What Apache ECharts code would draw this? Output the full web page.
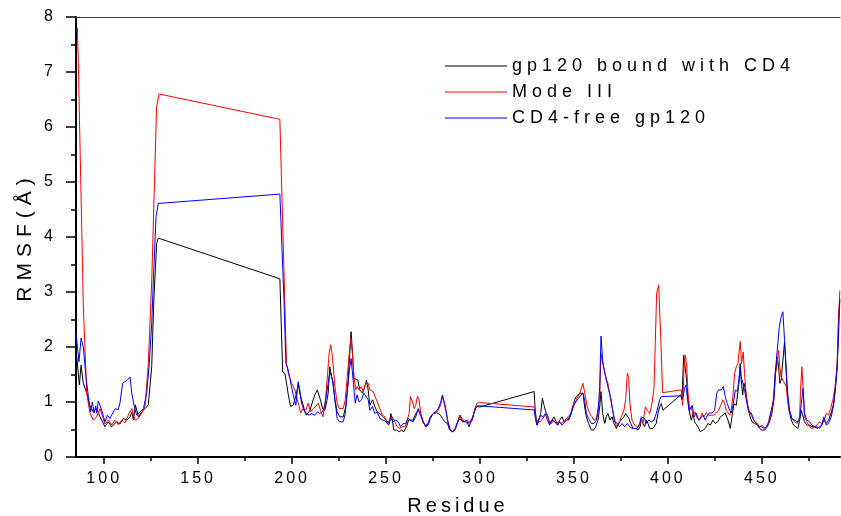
<!DOCTYPE html>
<html>
<head>
<meta charset="UTF-8">
<title>RMSF</title>
<script src="https://cdn.jsdelivr.net/npm/echarts@6/dist/echarts.min.js"></script>
<style>
  html, body { margin: 0; padding: 0; background: #fff; }
  #main { width: 841px; height: 516px; }
</style>
</head>
<body>
<div id="main"></div>
<script>
// [residue, RMSF]
var boundCD4 = [
    [85,1.98],[86.8,1.31],[87.7,1.67],[88.9,1.34],[90.7,1.16],[92.4,0.93],[94.2,0.82],[96,0.88],[97.8,0.73],[100.4,0.55],
    [102.2,0.64],[104,0.55],[106.6,0.64],[108.4,0.6],[110.2,0.7],[112,0.67],[113.8,0.73],[114.7,0.82],[115.6,0.67],[116.6,0.95],
    [118.2,0.73],[120,0.82],[121.8,0.88],[123.5,0.95],[125.3,1.64],[126.3,2.75],[127.9,3.88],[128.8,3.98],
    [193.5,3.24],[195,1.55],[196.2,1.52],[196.8,1.55],[198,1.13],[199.2,0.92],[200.6,0.94],[201.5,0.92],[202.4,1.16],[203.3,1.34],
    [204.1,1.16],[205,1.19],[205.9,0.94],[206.8,0.82],[207.7,0.76],[209.5,0.85],[211.2,1.04],[212.1,1.13],[213.4,1.22],[214.4,1.25],
    [215.1,1.04],[216.2,0.88],[217.4,0.85],[218.3,0.98],[219.2,1.16],[220.1,1.64],[221,1.46],[221.9,1.34],[222.8,1.04],[224,0.82],
    [225.4,0.73],[227.2,0.73],[228.6,0.92],[229.8,1.37],[230.7,1.88],[231.4,2.28],[232.2,1.88],[232.9,1.43],[233.9,1.4],[235,1.4],
    [236,1.22],[237.5,1.16],[238.7,1.28],[239.6,1.4],[240.5,1.22],[241.4,0.94],[242.8,1.04],[244,0.92],[245.3,0.82],[246.7,0.79],
    [248.5,0.73],[250.2,0.67],[251.7,0.61],[252.6,0.79],[253.4,0.67],[254.1,0.49],[255.6,0.49],[257,0.46],[258.2,0.49],[259.5,0.46],
    [260.9,0.55],[262,0.67],[263,0.7],[264.4,0.67],[265.8,0.79],[267.1,0.85],[268.3,0.79],[269.8,0.64],[271.2,0.55],[272.4,0.58],
    [273.6,0.7],[275.1,0.79],[276.5,0.82],[277.7,0.79],[279,0.76],[280,0.7],[281.3,0.64],[282.7,0.61],[283.9,0.49],[285.4,0.46],
    [286.6,0.49],[287.8,0.61],[289.3,0.76],[290.3,0.67],[291.4,0.64],[292.8,0.67],[294.2,0.55],[295.5,0.67],[296.7,0.79],[298.1,0.92],
    [300,0.91],
    [328.8,1.19],[329.5,0.8],[330.5,0.58],[331.4,0.61],[332.3,0.79],[333.2,1.07],[334.1,0.94],[335,0.82],[335.9,0.76],[337.1,0.61],
    [338.3,0.67],[339.4,0.73],[340.6,0.64],[341.5,0.58],[342.4,0.67],[343.7,0.73],[344.7,0.64],[346,0.7],[347.2,0.67],[348.3,0.76],
    [349.5,0.92],[350.4,1.04],[351.3,1.1],[352.2,1.13],[353.1,1.16],[354,1.13],[354.8,1.16],[355.7,0.91],[356.6,0.73],[357.8,0.61],
    [359.3,0.49],[360.5,0.49],[361.6,0.55],[362.8,0.67],[363.7,0.91],[364.4,1.19],[365.3,0.79],[366.4,0.61],[367.2,0.73],[368.1,0.79],
    [369.2,0.67],[370.3,0.73],[371.3,0.61],[372.6,0.52],[373.4,0.55],[374.3,0.64],[375.2,0.64],[376.6,0.73],[377.5,0.79],[378.4,0.82],
    [379.3,0.7],[380.2,0.61],[381.4,0.52],[382.7,0.52],[384.1,0.49],[385.2,0.55],[385.9,0.7],[386.7,0.61],[387.6,0.55],[388.5,0.67],
    [389.4,0.61],[390.3,0.52],[391.2,0.55],[392.1,0.52],[393,0.49],[393.8,0.61],[394.7,0.79],[395.6,0.91],[396.5,0.97],[397.4,0.85],
    [406.8,1.13],[407.5,1.04],[408.4,1.85],[409.3,1.88],[410,1.4],[410.7,1.04],[411.6,0.8],[412.5,0.67],[413.4,0.8],[414.2,0.64],
    [415.1,0.67],[416,0.55],[417.3,0.46],[418.7,0.49],[419.9,0.52],[421.3,0.61],[422.6,0.58],[424,0.67],[425.2,0.61],[426.6,0.64],
    [427.9,0.73],[429.3,0.76],[430.5,0.8],[432,0.67],[433.2,0.52],[434.1,0.73],[435.2,0.97],[436.4,0.94],[437.3,0.91],[437.8,1.34],
    [438.5,1.7],[439,1.4],[439.8,1.13],[440.5,1.34],[441.2,1.25],[442.3,0.97],[443.5,0.76],[444.7,0.64],[446.2,0.61],[447.6,0.58],
    [448.8,0.52],[450,0.49],[451.5,0.49],[452.9,0.55],[454.1,0.64],[455.4,0.8],[456.4,1.04],[457.3,1.52],[458.2,1.82],[458.9,1.64],
    [459.6,1.34],[460.3,1.4],[461.2,1.37],[462.1,2.1],[462.8,1.7],[463.5,1.22],[464.4,0.85],[465.7,0.67],[466.9,0.58],[468,0.55],
    [469.2,0.52],[470.1,0.67],[471,0.85],[471.9,0.82],[472.7,0.64],[474,0.58],[475.4,0.58],[476.6,0.55],[478.1,0.55],[479.5,0.52],
    [480.7,0.55],[481.9,0.58],[483,0.67],[484.3,0.61],[485.5,0.67],[486.9,0.8],[488.2,0.97],[489.2,1.28],[490.1,1.64],[490.8,2.49],
    [491.5,2.88]
];

var modeIII = [
    [85.7,7.8],[86.2,7.22],[88.9,2.75],[90.7,1.16],[92.4,0.8],[94.2,0.67],[96,0.73],[97.8,0.88],[99.5,0.7],[100.4,0.6],
    [102.2,0.67],[104,0.58],[105.7,0.67],[107.5,0.59],[109.3,0.67],[111,0.62],[112.8,0.76],[114.7,0.88],[116.4,0.67],[118.2,0.7],
    [120,0.8],[121.8,0.93],[123.5,1.7],[125.3,3.2],[127.9,6.37],[129.2,6.6],
    [193.5,6.14],[195.5,3.6],[197,1.7],[198,1.52],[199.7,1.34],[201.5,1.22],[202.7,1.04],[203.8,0.92],[204.5,0.8],[205.9,0.88],
    [207.3,0.85],[208.6,0.98],[209.8,0.82],[211.2,0.88],[212.6,0.92],[213.9,0.98],[215.1,0.85],[216.5,0.73],[217.8,1.04],[218.9,1.52],
    [219.7,1.88],[220.6,2.04],[221.5,1.82],[222.8,1.28],[224,0.98],[225.1,0.88],[227.2,0.88],[228.3,1.04],[229,1.31],[229.8,1.64],
    [230.7,2.0],[231.4,2.16],[232.2,1.82],[232.9,1.46],[233.9,1.22],[234.6,1.28],[235.7,1.22],[236.9,1.28],[237.8,1.19],[239.2,1.34],
    [240.5,1.34],[241.4,1.22],[243.1,1.19],[244.9,1.04],[246.7,0.88],[248.1,0.76],[249.4,0.73],[250.6,0.61],[252,0.67],[253.4,0.73],
    [254.7,0.64],[255.9,0.55],[257.3,0.52],[258.8,0.55],[260.2,0.55],[261.2,0.67],[262.3,0.79],[263,1.1],[264.1,1.0],[265,0.88],
    [265.8,0.94],[266.7,1.1],[267.6,1.04],[268.5,0.79],[269.8,0.61],[271.2,0.58],[272.4,0.61],[273.6,0.73],[275.1,0.79],[276.5,0.79],
    [277.7,0.85],[279,0.94],[280,1.1],[280.7,1.13],[281.8,0.85],[283,0.64],[284.3,0.49],[285.7,0.46],[287.1,0.52],[288.4,0.67],
    [289.3,0.76],[290.5,0.7],[291.9,0.64],[293.2,0.67],[294.6,0.61],[296,0.67],[297.2,0.88],[298.5,0.98],[300,0.99],
    [328.8,0.91],[329.5,0.75],[330,0.67],[331,0.64],[332,0.64],[333,0.67],[334.1,0.73],[335.3,0.79],[336.6,0.67],[338,0.61],
    [339.2,0.67],[340.6,0.61],[341.9,0.64],[343,0.61],[344.2,0.64],[345.4,0.67],[346.8,0.73],[348.3,0.79],[349.5,0.94],[350.4,0.97],
    [351.3,1.04],[352.2,1.1],[353.1,1.16],[354,1.19],[354.8,1.34],[355.4,1.35],[356.1,1.1],[357.1,0.91],[358.4,0.79],[359.6,0.73],
    [360.7,0.67],[361.9,0.7],[362.8,0.73],[363.7,1.04],[364.4,1.88],[365.3,1.7],[366.4,1.55],[367.4,1.4],[368.1,1.34],[369.2,1.1],
    [370.3,0.91],[371.3,0.73],[372.6,0.55],[373.8,0.61],[375.2,0.73],[376.6,0.85],[377.5,1.04],[378.4,1.52],[379.1,1.46],[379.8,0.97],
    [380.9,0.67],[382.3,0.58],[383.7,0.55],[385,0.58],[385.9,0.7],[386.7,0.61],[388,0.91],[389,0.85],[390.3,0.79],[391.5,0.97],
    [392.6,1.25],[393.3,2.07],[394,2.97],[395.1,3.13],[396.1,2.25],[397.2,1.17],
    [407.1,1.22],[407.9,0.94],[408.6,1.64],[409.3,1.85],[410,1.64],[410.7,1.16],[411.6,0.85],[412.5,0.91],[413.4,0.76],[414.6,0.82],
    [415.7,0.7],[416.9,0.67],[418.1,0.8],[419.2,0.73],[420.4,0.8],[421.7,0.76],[423.1,0.76],[424.5,0.76],[425.8,0.8],[427,0.85],
    [428.1,0.94],[429.3,1.04],[430.2,0.97],[431.1,0.85],[432,0.82],[433,0.76],[433.7,0.85],[434.6,1.1],[435.5,1.52],[436.4,1.64],
    [437.3,1.7],[437.8,1.88],[438.5,2.1],[439.2,1.7],[440.1,1.91],[440.8,1.52],[441.7,1.1],[442.6,0.91],[443.5,0.82],[444.7,0.73],
    [446.2,0.64],[447.6,0.61],[448.8,0.55],[450,0.58],[451.5,0.52],[452.9,0.55],[454.1,0.67],[455.4,0.85],[456.3,1.1],[457.1,1.52],
    [458,1.64],[458.9,1.94],[459.6,1.64],[460.3,1.46],[461.2,1.4],[462.1,1.4],[463,1.28],[463.9,0.97],[464.8,0.82],[466,0.7],
    [467.4,0.64],[468.8,0.61],[470.1,0.73],[470.6,1.22],[471.3,1.64],[472,1.22],[472.7,0.73],[474,0.64],[475.4,0.55],[476.6,0.52],
    [478.1,0.55],[479.5,0.58],[480.7,0.64],[481.9,0.61],[483,0.64],[484.3,0.8],[485.5,0.76],[486.6,0.88],[487.8,1.04],[489,1.28],
    [490.1,1.7],[490.8,2.43],[491.5,3.02]
];

var cd4Free = [
    [85,2.25],[86.6,1.73],[87.7,2.16],[88.9,2.0],[90.3,1.46],[91.6,1.1],[92.8,0.82],[93.7,1.0],[94.6,0.8],[95.5,0.93],
    [96,0.8],[96.9,1.02],[98.7,0.85],[100.4,0.64],[101.7,0.76],[103,0.7],[104.8,0.82],[106,0.88],[107.5,0.86],[108.4,0.98],
    [109.8,1.34],[111,1.37],[112.2,1.4],[113.8,1.45],[114.7,1.16],[115.9,0.93],[117.3,0.76],[119.1,0.82],[120.9,0.88],[122.6,1.16],
    [123.9,1.64],[125.3,2.43],[126.2,3.24],[127.6,4.37],[128.8,4.61],
    [193.5,4.78],[195.7,2.85],[196.7,1.7],[198,1.58],[199.7,1.28],[201,1.07],[202,0.94],[203.3,1.37],[204.1,1.22],[205,0.98],
    [206.3,0.85],[207.7,0.79],[209.1,0.76],[210.3,0.79],[212.1,0.76],[213.4,0.82],[214.8,0.79],[216.2,0.82],[217.4,0.94],[218.7,1.22],
    [219.7,1.46],[220.6,1.52],[221.5,1.4],[222.8,1.04],[224,0.7],[225.1,0.64],[227.2,0.64],[228.3,0.79],[229.3,1.16],[230.4,1.55],
    [231.4,1.79],[232.5,1.4],[233.6,0.98],[234.6,1.13],[235.7,1.0],[236.9,1.04],[238.2,1.16],[239.2,1.13],[240.5,1.04],[241.4,0.85],
    [242.8,0.92],[244,0.79],[245.3,0.82],[246.7,0.7],[248.5,0.67],[250.2,0.64],[251.3,0.58],[252.6,0.7],[253.8,0.64],[255.2,0.67],
    [256.5,0.64],[257.7,0.55],[259.1,0.61],[260.5,0.61],[261.8,0.7],[263,0.67],[264.4,0.64],[265.8,0.73],[267.1,0.88],[268.3,0.76],
    [269.8,0.64],[271.2,0.55],[272.4,0.61],[273.6,0.73],[275.1,0.79],[276.5,0.82],[277.7,0.88],[279,0.98],[280,1.13],[280.7,1.15],
    [281.6,0.92],[282.7,0.67],[283.9,0.5],[285.4,0.46],[286.6,0.49],[287.8,0.61],[289.3,0.7],[290.7,0.64],[292.1,0.64],[293.3,0.61],
    [294.6,0.64],[296,0.7],[297.2,0.85],[298.5,0.93],[300,0.93],
    [328.8,0.855],[329.5,0.7],[330.2,0.58],[331.2,0.67],[332.3,0.76],[333.5,0.73],[334.8,0.79],[335.9,0.67],[337.1,0.58],[338.3,0.67],
    [339.8,0.64],[341.2,0.58],[342.4,0.64],[343.7,0.58],[345.1,0.64],[346.5,0.67],[347.7,0.73],[349,0.85],[350.4,0.97],[351.8,1.04],
    [353.1,1.1],[354,1.13],[354.8,1.16],[355.7,1.04],[356.6,0.79],[357.8,0.7],[359.3,0.61],[360.7,0.61],[361.9,0.67],[362.8,0.79],
    [363.7,1.28],[364.4,2.2],[365.3,1.76],[366.4,1.52],[367.4,1.37],[368.5,1.22],[369.5,1.1],[370.6,0.85],[371.7,0.64],[373.1,0.61],
    [374.3,0.55],[375.6,0.61],[377,0.55],[378.4,0.61],[379.7,0.55],[380.9,0.52],[382.3,0.52],[383.7,0.52],[385,0.61],[385.9,0.73],
    [386.7,0.76],[387.6,0.7],[388.5,0.61],[389.8,0.67],[391.2,0.64],[392.6,0.67],[393.8,0.79],[394.7,0.91],[395.6,1.04],[396.5,1.1],
    [397.4,1.13],
    [406.8,1.11],[407.9,1.07],[408.9,1.25],[409.6,1.31],[410.3,1.1],[411.2,0.85],[412.1,0.85],[413,0.94],[413.9,0.73],[415.1,0.8],
    [416.4,0.67],[417.4,0.67],[418.7,0.76],[419.9,0.67],[421,0.76],[422.2,0.8],[423.5,0.8],[424.9,0.85],[426,1.16],[427,1.22],
    [428.4,1.22],[429.5,1.28],[430.5,1.1],[431.6,0.97],[432.9,0.85],[433.7,0.8],[434.8,0.97],[435.9,1.22],[437,1.19],[437.8,1.4],
    [438.5,1.64],[439,1.46],[439.9,1.49],[440.8,1.22],[441.7,1.04],[443,0.82],[444.4,0.8],[445.8,0.67],[447,0.61],[448.3,0.55],
    [449.7,0.55],[451.1,0.52],[452.4,0.55],[453.6,0.64],[455,0.85],[456.3,1.04],[457.1,1.52],[458.2,1.94],[459.3,2.37],[460.3,2.55],
    [461.2,2.64],[462.1,2.12],[463,1.52],[463.9,1.1],[464.8,0.85],[466,0.7],[467.4,0.67],[468.8,0.64],[470.1,0.67],[471,0.97],
    [472,1.25],[472.7,0.8],[474,0.67],[475.4,0.64],[476.6,0.58],[478.1,0.55],[479.5,0.55],[480.7,0.52],[481.9,0.58],[483,0.73],
    [484.3,0.58],[485.5,0.61],[486.9,0.73],[488.2,0.94],[489.2,1.25],[490.1,1.64],[490.8,2.19],[491.5,2.85]
];

var seriesNames = ['gp120 bound with CD4', 'Mode III', 'CD4-free gp120'];
var seriesColors = ['#000000', '#ff0000', '#0000ff'];
var xLabels = [100, 150, 200, 250, 300, 350, 400, 450];
var xMinorTicks = [125, 175, 225, 275, 325, 375, 425, 475];

// the original spaces its letters out; ECharts has no option for it, canvas does.
// keyed by font size: tick labels 16, legend 18, x name 20, y name 21
var spacing = { 16: 3, 18: 5, 20: 4, 21: 6 };
var fillText = CanvasRenderingContext2D.prototype.fillText;
CanvasRenderingContext2D.prototype.fillText = function () {
    var m = /(\d+)px/.exec(this.font);
    this.letterSpacing = ((m && spacing[m[1]]) || 0) + 'px';
    return fillText.apply(this, arguments);
};

var font = 'Liberation Sans';
var myChart = echarts.init(document.getElementById('main'));

var option = {
    animation: false,
    backgroundColor: '#fff',
    grid: { left: 76, right: 1, top: 17, bottom: 59, outerBoundsMode: 'none' },
    legend: {
        orient: 'vertical',
        left: 440,
        top: 52,
        icon: 'rect',
        itemWidth: 62,
        itemHeight: 1,
        itemGap: 8,
        data: seriesNames,
        textStyle: { fontFamily: font, fontSize: 18, color: '#000' }
    },
    xAxis: [{
        type: 'value',
        min: 85,
        max: 491.6,
        position: 'bottom',
        name: 'Residue',
        nameLocation: 'middle',
        nameGap: 39,
        nameTextStyle: { fontFamily: font, fontSize: 20, color: '#000' },
        axisLine: { lineStyle: { color: '#000', width: 2 } },
        axisTick: { customValues: xLabels, length: 7, lineStyle: { color: '#000', width: 1.5 } },
        axisLabel: { customValues: xLabels, margin: 14, fontFamily: font, fontSize: 16, color: '#000' },
        splitLine: { show: false }
    }, {
        type: 'value',
        min: 85,
        max: 491.6,
        position: 'bottom',
        axisLine: { show: false },
        axisTick: { customValues: xMinorTicks, length: 4, lineStyle: { color: '#000', width: 1.5 } },
        axisLabel: { show: false },
        splitLine: { show: false }
    }, {
        type: 'value',
        min: 85,
        max: 491.6,
        position: 'top',
        axisLine: { lineStyle: { color: '#444', width: 1.2 } },
        axisTick: { show: false },
        axisLabel: { show: false },
        splitLine: { show: false }
    }],
    yAxis: {
        type: 'value',
        min: 0,
        max: 8,
        interval: 1,
        name: 'RMSF(Å)',
        nameLocation: 'middle',
        nameGap: 37,
        nameTextStyle: { fontFamily: font, fontSize: 21, color: '#000' },
        axisLine: { show: true, lineStyle: { color: '#000', width: 2 } },
        axisTick: { length: 10, lineStyle: { color: '#000', width: 1.5 } },
        minorTick: { show: true, splitNumber: 2, length: 5, lineStyle: { color: '#000', width: 1.5 } },
        axisLabel: { margin: 20, fontFamily: font, fontSize: 16, color: '#000' },
        splitLine: { show: false },
        minorSplitLine: { show: false }
    },
    series: [boundCD4, modeIII, cd4Free].map(function (d, i) {
        return {
            name: seriesNames[i],
            type: 'line',
            data: d,
            symbol: 'none',
            color: seriesColors[i],
            lineStyle: { color: seriesColors[i], width: 1 }
        };
    })
};
myChart.setOption(option);
</script>
</body>
</html>
